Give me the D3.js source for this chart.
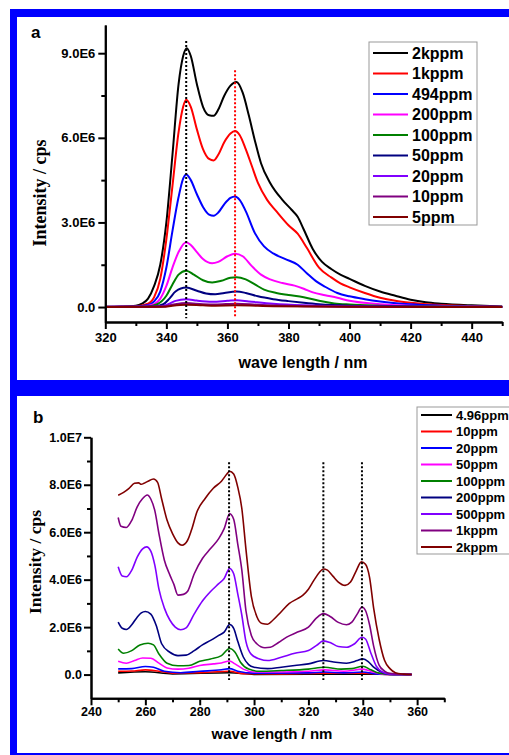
<!DOCTYPE html>
<html><head><meta charset="utf-8">
<script src="https://cdn.jsdelivr.net/npm/d3@7"></script>
<style>body{margin:0;background:#fff}svg{display:block}</style>
</head><body>
<script>
// ---------- Panel a data (wavelength nm, intensity in 1E6 cps) ----------
const a_2kppm = [[320,0.01],[325,0.02],[330,0.05],[332,0.12],[334,0.3],[336,0.75],[338,1.5],[340,3.0],[342,5.4],[344,7.9],[345.5,8.9],[346.7,9.18],[348,8.9],[350,7.9],[352,7.1],[354,6.8],[355.5,6.78],[357,7.0],[359,7.5],[361,7.85],[363,7.98],[365,7.6],[367,6.8],[369,5.9],[371,5.1],[374,4.4],[378,3.8],[381,3.45],[383,3.2],[385,2.75],[388,2.05],[391,1.6],[394,1.35],[397,1.15],[400,1.0],[405,0.75],[410,0.55],[415,0.4],[420,0.26],[425,0.17],[430,0.12],[440,0.06],[450,0.02]];
const a_1kppm = [[320,0.01],[330,0.03],[334,0.12],[336,0.35],[338,1.0],[340,2.4],[342,4.3],[344,6.2],[345.5,7.1],[346.5,7.35],[348,7.1],[350,6.3],[352,5.6],[354,5.25],[355.5,5.2],[357,5.4],[359,5.85],[361,6.15],[362.5,6.24],[364,6.1],[366,5.6],[368,5.0],[370,4.4],[373,3.8],[376,3.4],[380,2.9],[383,2.6],[386,2.1],[390,1.4],[394,1.05],[397,0.84],[400,0.7],[405,0.5],[410,0.33],[415,0.22],[420,0.15],[430,0.07],[440,0.03],[450,0.01]];
const a_494ppm = [[320,0.01],[330,0.02],[334,0.07],[336,0.2],[338,0.55],[340,1.4],[342,2.7],[344,3.9],[345.5,4.55],[346.5,4.7],[348,4.5],[350,4.0],[352,3.55],[354,3.28],[355.5,3.24],[357,3.35],[359,3.65],[361,3.87],[362.5,3.92],[364,3.8],[366,3.4],[369,2.62],[372,2.15],[375,1.9],[379,1.7],[383,1.5],[386,1.2],[389,0.92],[392,0.72],[396,0.5],[400,0.38],[405,0.28],[410,0.2],[420,0.1],[430,0.05],[440,0.02],[450,0.01]];
const a_200ppm = [[320,0.005],[332,0.02],[336,0.1],[338,0.3],[340,0.75],[342,1.4],[344,1.95],[346.5,2.3],[348,2.2],[350,1.95],[352,1.7],[355,1.55],[357,1.6],[360,1.8],[362.5,1.89],[365,1.8],[368,1.45],[371,1.15],[374,0.98],[378,0.85],[382,0.76],[385,0.65],[388,0.52],[392,0.42],[396,0.33],[400,0.22],[410,0.1],[420,0.05],[435,0.02],[450,0.005]];
const a_100ppm = [[320,0],[334,0.02],[337,0.1],[340,0.4],[342,0.8],[344,1.15],[346.5,1.29],[349,1.15],[352,0.95],[355,0.87],[358,0.93],[361,1.04],[363,1.06],[366,0.98],[369,0.8],[372,0.62],[376,0.5],[380,0.43],[385,0.35],[390,0.22],[395,0.13],[400,0.09],[410,0.05],[425,0.02],[450,0]];
const a_50ppm = [[320,0],[336,0.02],[339,0.1],[341,0.3],[343,0.55],[346.5,0.69],[350,0.58],[353,0.48],[356,0.45],[359,0.5],[363,0.55],[366,0.5],[370,0.38],[375,0.28],[380,0.21],[385,0.15],[390,0.1],[400,0.05],[420,0.02],[450,0]];
const a_20ppm = [[320,0],[338,0.02],[341,0.12],[343,0.22],[346.5,0.28],[350,0.23],[355,0.19],[360,0.22],[363,0.24],[367,0.2],[375,0.12],[385,0.06],[400,0.02],[450,0]];
const a_10ppm = [[320,0],[339,0.02],[342,0.08],[346.5,0.14],[352,0.1],[356,0.09],[363,0.12],[370,0.08],[385,0.03],[400,0.01],[450,0]];
const a_5ppm = [[320,0],[339,0.01],[342,0.05],[346.5,0.08],[352,0.06],[356,0.05],[363,0.06],[375,0.03],[400,0.01],[450,0]];
const namesA = ["2kppm","1kppm","494ppm","200ppm","100ppm","50ppm","20ppm","10ppm","5ppm"];
const seriesA = [a_2kppm,a_1kppm,a_494ppm,a_200ppm,a_100ppm,a_50ppm,a_20ppm,a_10ppm,a_5ppm];
const colorsA = ["#000000","#ff0000","#0000ff","#ff00ff","#008000","#000080","#8000ff","#800080","#800000"];
const xTicksA = [320,340,360,380,400,420,440];
const xMinorA = [330,350,370,390,410,430,450];
const yTicksA = [0,3,6,9];
const yTickLabelsA = ["0.0","3.0E6","6.0E6","9.0E6"];
const yMinorA = [1.5,4.5,7.5];
const peaksA = [346.5,362.5];
const peakTopsA = [9.43,8.4];
const peakColorsA = ["#000000","#ff0000"];

// ---------- Panel b data ----------
const b_4_96ppm = [[250,0.07],[260,0.12],[270,0.03],[291,0.08],[300,0.01],[330,0.02],[340,0.02],[350,0.005],[358,0]];
const b_10ppm = [[250,0.14],[255,0.15],[260,0.2],[265,0.14],[270,0.06],[280,0.08],[291,0.14],[296,0.04],[310,0.03],[326,0.06],[340,0.06],[350,0.01],[358,0]];
const b_20ppm = [[250,0.24],[255,0.25],[260,0.34],[263,0.31],[267,0.14],[273,0.08],[280,0.14],[288,0.2],[291,0.25],[294,0.14],[300,0.06],[320,0.07],[326,0.11],[333,0.07],[340,0.11],[345,0.03],[350,0.01],[358,0]];
const b_50ppm = [[250,0.56],[253,0.48],[256,0.59],[259,0.7],[262,0.69],[265,0.48],[268,0.28],[272,0.23],[276,0.27],[280,0.38],[285,0.45],[288,0.49],[291,0.57],[293,0.45],[296,0.23],[300,0.11],[310,0.11],[320,0.14],[326,0.2],[333,0.14],[340,0.23],[344,0.1],[348,0.01],[358,0]];
const b_100ppm = [[250,1.08],[252,0.9],[255,1.01],[258,1.25],[261,1.32],[263,1.25],[265,0.87],[268,0.48],[272,0.37],[276,0.38],[280,0.56],[284,0.66],[288,0.8],[291,1.1],[293,0.94],[295,0.52],[298,0.23],[302,0.14],[310,0.17],[320,0.23],[326,0.31],[332,0.23],[336,0.25],[340,0.35],[343,0.2],[346,0.06],[350,0.01],[358,0]];
const b_200ppm = [[250,2.21],[251.5,1.95],[253,1.9],[255,2.1],[257,2.42],[258.5,2.6],[260,2.66],[262,2.55],[264,2.07],[266,1.3],[269,0.94],[272,0.8],[275,0.82],[278,1.01],[281,1.25],[284,1.44],[287,1.65],[289,1.79],[291,2.11],[292.5,1.95],[294,1.4],[296,0.75],[298,0.42],[300,0.31],[305,0.25],[310,0.31],[315,0.38],[320,0.45],[325.5,0.59],[330,0.52],[334,0.48],[338,0.59],[340,0.66],[342,0.55],[344,0.31],[347,0.1],[350,0.02],[358,0]];
const b_500ppm = [[250,4.54],[251.5,4.15],[253,4.12],[255,4.4],[257,4.95],[259,5.3],[260.5,5.38],[262,5.2],[263.5,4.6],[265,3.6],[267,2.8],[269,2.3],[271,2.0],[273,1.89],[275,1.97],[278,2.56],[281,3.1],[284,3.5],[287,3.83],[289,4.05],[291,4.47],[292.5,4.25],[294,3.4],[295.5,2.5],[297,1.4],[299,0.85],[302,0.66],[305,0.59],[310,0.73],[315,0.9],[320,1.01],[323,1.23],[325.5,1.42],[328,1.35],[331,1.18],[334,1.15],[337,1.3],[339.7,1.57],[341,1.5],[343,0.9],[345,0.35],[347,0.12],[350,0.02],[358,0]];
const b_1kppm = [[250,6.62],[251,6.25],[253,6.2],[255,6.5],[257,7.07],[259,7.42],[260.7,7.57],[262,7.4],[263.5,6.9],[265,5.94],[267,4.82],[269,4.2],[270.5,3.8],[272,3.35],[274,3.38],[275.5,3.5],[278,4.25],[281,4.89],[284,5.31],[287,5.73],[289,6.15],[291,6.78],[292.5,6.55],[294,5.5],[295.5,4.4],[297,2.7],[299,1.65],[301,1.3],[304,1.13],[306,1.15],[309,1.35],[312,1.58],[316,1.79],[320,2.0],[323,2.39],[325.5,2.57],[328,2.45],[331,2.2],[334,2.1],[336,2.21],[338,2.56],[339.7,2.85],[341,2.7],[342.5,2.1],[344,1.2],[346,0.4],[348,0.15],[350,0.05],[355,0.01],[358,0]];
const b_2kppm = [[250,7.56],[252,7.68],[254,7.85],[256,8.06],[257.5,8.08],[258.5,8.02],[259.5,8.06],[261,8.15],[263,8.24],[264.5,8.1],[266,7.4],[268,6.5],[270,5.94],[272,5.55],[273.5,5.45],[275.5,5.65],[277,6.1],[279,6.86],[282,7.42],[285,7.85],[288,8.15],[290,8.45],[291,8.57],[292.5,8.45],[294,7.9],[295.5,7.0],[297,5.3],[299,3.3],[301,2.45],[303,2.15],[305,2.12],[307,2.3],[310,2.65],[313,3.0],[316,3.2],[318,3.35],[320,3.6],[322,3.97],[324,4.3],[325.5,4.45],[327,4.4],[329,4.15],[331,3.9],[333.5,3.76],[335.5,3.9],[337.5,4.35],[339.5,4.75],[341,4.65],[342.5,4.1],[344,2.8],[346,1.5],[348,0.6],[350,0.25],[352,0.08],[355,0.02],[358,0]];
const namesB = ["4.96ppm","10ppm","20ppm","50ppm","100ppm","200ppm","500ppm","1kppm","2kppm"];
const seriesB = [b_4_96ppm,b_10ppm,b_20ppm,b_50ppm,b_100ppm,b_200ppm,b_500ppm,b_1kppm,b_2kppm];
const colorsB = ["#000000","#ff0000","#0000ff","#ff00ff","#008000","#000080","#8000ff","#800080","#800000"];
const xTicksB = [240,260,280,300,320,340,360];
const xMinorB = [250,270,290,310,330,350,370];
const yTicksB = [0,2,4,6,8,10];
const yTickLabelsB = ["0.0","2.0E6","4.0E6","6.0E6","8.0E6","1.0E7"];
const yMinorB = [1,3,5,7,9];
const peaksB = [290.8,325.5,339.7];
const peakTopB = 8.95;

// ---------- drawing ----------
const W = 509, H = 755;
const svg = d3.select("body").append("svg").attr("width", W).attr("height", H);
svg.append("rect").attr("x",10).attr("y",9).attr("width",W-10).attr("height",H-9).attr("fill","#0000ff");
svg.append("rect").attr("x",17).attr("y",17).attr("width",W-17).attr("height",363).attr("fill","#fff");
svg.append("rect").attr("x",17).attr("y",396).attr("width",W-17).attr("height",357).attr("fill","#fff");

const SANS = "Arial, 'Liberation Sans', sans-serif";
const SERIF = "'Times New Roman', 'Liberation Serif', serif";

function panel(o) {
  const g = svg.append("g");
  const x = d3.scaleLinear().domain(o.xDom).range(o.xRange);
  const y = d3.scaleLinear().domain(o.yDom).range(o.yRange);
  // curves
  const line = d3.line().x(d => x(d[0])).y(d => y(d[1])).curve(d3.curveMonotoneX);
  o.series.forEach((s, i) => {
    g.append("path").attr("d", line(s)).attr("fill","none")
      .attr("stroke", o.colors[i]).attr("stroke-width", o.lw).attr("stroke-linejoin","round");
  });
  // dotted peak markers
  o.peaks.forEach((p, i) => {
    g.append("line").attr("x1", x(p)).attr("x2", x(p))
      .attr("y1", y(o.peakTops[i])).attr("y2", y(o.peakBottom))
      .attr("stroke", o.peakColors[i]).attr("stroke-width", 2).attr("stroke-dasharray","2,2");
  });
  // axes
  const xAxis = g.append("g").attr("transform", `translate(0,${o.yRange[0]})`)
    .call(d3.axisBottom(x).tickValues(o.xTicks).tickSize(7).tickSizeOuter(0).tickPadding(o.xPad).tickFormat(d3.format("d")));
  const xMin = g.append("g").attr("transform", `translate(0,${o.yRange[0]})`)
    .call(d3.axisBottom(x).tickValues(o.xMinor).tickSize(4).tickSizeOuter(0).tickFormat(""));
  const yAxis = g.append("g").attr("transform", `translate(${o.xRange[0]},0)`)
    .call(d3.axisLeft(y).tickValues(o.yTicks).tickSize(7).tickSizeOuter(0).tickPadding(o.yPad).tickFormat((d,i) => o.yLabels[i]));
  const yMin = g.append("g").attr("transform", `translate(${o.xRange[0]},0)`)
    .call(d3.axisLeft(y).tickValues(o.yMinor).tickSize(4).tickSizeOuter(0).tickFormat(""));
  [xAxis,xMin,yAxis,yMin].forEach(a => {
    a.select(".domain").attr("stroke","#000").attr("stroke-width",2);
    a.selectAll(".tick line").attr("stroke","#000").attr("stroke-width",2);
    a.selectAll("text").attr("font-family",SANS).attr("font-weight","bold")
      .attr("font-size",o.tickFont).attr("fill","#000");
  });
  // titles
  g.append("text").attr("x", o.xTitle[0]).attr("y", o.xTitle[1]).attr("text-anchor","middle")
    .attr("font-family",SANS).attr("font-weight","bold").attr("font-size",o.xTitleFont).text("wave length / nm");
  g.append("text").attr("transform",`translate(${o.yTitle[0]},${o.yTitle[1]}) rotate(-90)`)
    .attr("text-anchor","middle").attr("font-family",SERIF).attr("font-weight","bold")
    .attr("font-size",o.yTitleFont).text("Intensity / cps");
  g.append("text").attr("x",o.tag[0]).attr("y",o.tag[1]).attr("font-family",SANS)
    .attr("font-weight","bold").attr("font-size",17).text(o.tagText);
  // legend
  const L = o.legend;
  g.append("rect").attr("x",L.x).attr("y",L.y).attr("width",L.w).attr("height",L.h)
    .attr("fill","#fff").attr("stroke","#999").attr("stroke-width",1);
  o.names.forEach((n, i) => {
    const yy = L.y0 + i * L.dy;
    g.append("line").attr("x1",L.lx1).attr("x2",L.lx2).attr("y1",yy).attr("y2",yy)
      .attr("stroke",o.colors[i]).attr("stroke-width",2);
    g.append("text").attr("x",L.tx).attr("y",yy).attr("dy","0.36em").attr("font-family",SANS)
      .attr("font-weight","bold").attr("font-size",L.font).text(n);
  });
}

panel({
  series: seriesA, colors: colorsA, names: namesA, lw: 2,
  xDom: [320,450], xRange: [105.3,502.2], yDom: [-0.53,10.0], yRange: [322,25],
  xTicks: xTicksA, xMinor: xMinorA, yTicks: yTicksA, yLabels: yTickLabelsA, yMinor: yMinorA,
  xPad: 4, yPad: 3, tickFont: 13,
  peaks: peaksA, peakTops: peakTopsA, peakBottom: -0.4, peakColors: peakColorsA,
  xTitle: [303,368], xTitleFont: 16, yTitle: [46,193], yTitleFont: 18,
  tag: [31,38], tagText: "a",
  legend: {x:369,y:42,w:108,h:183,y0:53,dy:20.5,lx1:373,lx2:408,tx:412,font:16}
});

panel({
  series: seriesB, colors: colorsB, names: namesB, lw: 1.6,
  xDom: [240,370], xRange: [91,444.3], yDom: [-1.0,10.0], yRange: [698.3,437.3],
  xTicks: xTicksB, xMinor: xMinorB, yTicks: yTicksB, yLabels: yTickLabelsB, yMinor: yMinorB,
  xPad: 2, yPad: 2, tickFont: 12.5,
  peaks: peaksB, peakTops: peaksB.map(() => peakTopB), peakBottom: -0.23, peakColors: peaksB.map(() => "#000"),
  xTitle: [272,739], xTitleFont: 15, yTitle: [41,562], yTitleFont: 17.5,
  tag: [33,423], tagText: "b",
  legend: {x:417,y:407,w:100,h:147,y0:415,dy:16.5,lx1:421,lx2:452,tx:456,font:13}
});
</script>
</body></html>
